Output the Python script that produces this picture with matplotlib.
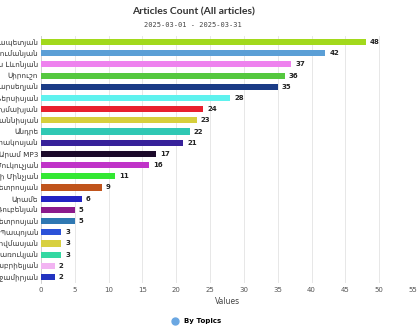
import matplotlib
matplotlib.use("Agg")
import matplotlib.pyplot as plt
from matplotlib.lines import Line2D

plt.rcParams['font.family'] = ['DejaVu Sans']

names = [
    "Լուսինե Սարապետյան", "Մարիամ Արզումանյան", "Կարեն Լևոնյան", "Սիրուշո",
    "Մարո Բարսեղյան", "Աննա Ներսիսյան", "Արմեն Թոխմախյան", "Անի Հովհաննիսյան",
    "Անդրե", "Մարիա Կիրակոսյան", "Արամ MP3", "Սոնա Մուկուչյան",
    "Ջորջի Մինչյան", "Աննա Պետրոսյան", "Արամե", "Լիանա Ռուբենյան",
    "Արմեն Պետրոսյան", "Ռաֆիկ Պապոյան", "Լուսինե Թովմասյան", "Արման Ծառուկյան",
    "Նարա Գաբրիելյան", "Արթուր Խոջամիրյան",
]
values = [48, 42, 37, 36, 35, 28, 24, 23, 22, 21, 17, 16, 11, 9, 6, 5, 5, 3, 3, 3, 2, 2]
colors = [
    "#a2d91c", "#5b9fd6", "#ee82ee", "#55c83f", "#1a3b86", "#5ff2ee", "#e8202e",
    "#d6cf3c", "#2fc8b4", "#37219a", "#1c0a2a", "#c033c8", "#33e833", "#c0541c",
    "#2323c4", "#8c1b8c", "#2f78b2", "#2b52d8", "#d8d040", "#33d8a2", "#f2b4f2",
    "#2233c0",
]
x_ticks = [0, 5, 10, 15, 20, 25, 30, 35, 40, 45, 50, 55]

fig = plt.figure(figsize=(4.2, 3.3), dpi=100)
ax = fig.add_axes([0.0976, 0.1436, 0.886, 0.746])

ypos = list(range(len(names)))
ax.barh(ypos, values, height=0.55, color=colors, zorder=3)
for y, v in zip(ypos, values):
    ax.text(v + 0.6, y, str(v), va='center', ha='left', fontsize=5, fontweight='bold', color='#222222')

ax.set_ylim(len(names) - 0.5, -0.5)
ax.set_xlim(0, 55)
ax.set_xticks(x_ticks)
ax.set_xticklabels([str(t) for t in x_ticks], fontsize=5, color='#555555')
ax.set_yticks(ypos)
ax.set_yticklabels(names, fontsize=5.2, color='#333333')
ax.tick_params(axis='both', length=0, pad=3)
ax.tick_params(axis='y', pad=2)
ax.grid(axis='x', color='#e3e3e3', linewidth=0.6, zorder=0)
for s in ['top', 'right', 'bottom']:
    ax.spines[s].set_visible(False)
ax.spines['left'].set_color('#cccccc')
ax.spines['left'].set_linewidth(0.6)
ax.set_xlabel("Values", fontsize=5.5, color='#444444', labelpad=3)

fig.text(0.46, 0.965, "Articles Count (All articles)", ha='center', va='center',
         fontsize=7.5, fontweight='bold', color='#333333', family=['Lato', 'DejaVu Sans'])
fig.text(0.46, 0.925, "2025-03-01 - 2025-03-31", ha='center', va='center',
         fontsize=5, color='#444444', family=['DejaVu Sans Mono'])

handle = Line2D([0], [0], marker='o', color='none', markerfacecolor='#6aa7e2',
                markeredgecolor='#6aa7e2', markersize=5)
leg = fig.legend([handle], ["By Topics"], loc='center', bbox_to_anchor=(0.464, 0.027),
                 frameon=False, prop={'size': 5, 'weight': 'bold'}, handletextpad=0.3)

fig.savefig("out.png", dpi=100)
